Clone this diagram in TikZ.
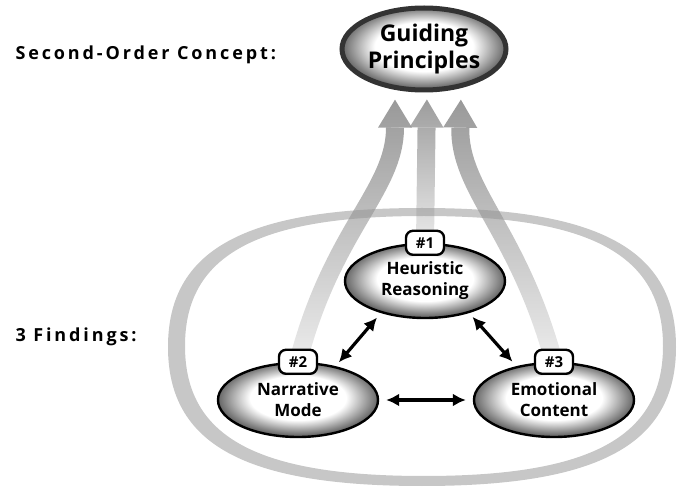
\documentclass[tikz,border=0pt]{standalone}
\usepackage{fontspec}
\setmainfont{Open Sans}
\newfontfamily\spacedsans[LetterSpace=16]{Open Sans}
\usetikzlibrary{shapes.geometric,arrows.meta,fadings,positioning}

\pgfdeclarelayer{back}
\pgfsetlayers{back,main}

\pgfdeclareradialshading{ovalglow}{\pgfpoint{0bp}{2bp}}{color(0bp)=(white); color(15bp)=(white); color(25bp)=(black!60); color(50bp)=(black!60)}
\tikzfading[name=risefade, top color=transparent!0, bottom color=transparent!85]

\begin{document}
\begin{tikzpicture}[x=1pt,y=-1pt,
  finding/.style={ellipse, draw=black, line width=2.4pt, shading=ovalglow,
    minimum width=160pt, minimum height=74pt, inner sep=0pt, align=center,
    font=\fontsize{17}{21}\selectfont\bfseries},
  concept/.style={finding, draw=black!80, line width=5pt,
    minimum width=164pt, minimum height=82pt,
    font=\fontsize{23}{27}\selectfont\bfseries},
  tag/.style={draw=black, line width=2.4pt, fill=white, rounded corners=7pt,
    minimum width=38pt, minimum height=24pt, inner sep=1pt,
    font=\fontsize{15}{16}\selectfont\bfseries},
  link/.style={{Latex[length=13pt,width=13pt]}-{Latex[length=13pt,width=13pt]},
    line width=3.2pt, black},
  rise/.style={line width=18pt, draw=black!42, path fading=risefade,
    -{Triangle[length=28pt,width=34pt,line width=0pt]}},
  caption/.style={anchor=west, font=\spacedsans\bfseries\fontsize{18}{20}\selectfont}]
  \useasboundingbox (0,0) rectangle (681,489);

  % nodes
  \node[concept] (guide) at (424,49) {Guiding\\Principles};
  \node[finding] (heur) at (425,281) {Heuristic\\Reasoning};
  \node[finding] (narr) at (298,400) {Narrative\\Mode};
  \node[finding] (emot) at (554,400) {Emotional\\Content};
  \node[tag] (tag1) at (heur.north) {\#1};
  \node[tag] (tag2) at (narr.north) {\#2};
  \node[tag] (tag3) at (emot.north) {\#3};

  \node[caption] (second) at (12,55) {Second-Order Concept:};
  \node[caption] (three) at (12,337) {3 Findings:};

  % links between the findings
  \draw[link, shorten <=5pt, shorten >=6pt] (narr.42) -- (heur.216);
  \draw[link, shorten <=5pt, shorten >=6pt] (heur.-36) -- (emot.138);
  \draw[link, shorten <=7pt, shorten >=7pt] (narr) -- (emot);

  \begin{pgfonlayer}{back}
    % loop round the findings
    \fill[black!22, even odd rule]
      (168,347) .. controls (168,250) and (244,208) .. (422,208)
      .. controls (600,208) and (676,250) .. (676,347)
      .. controls (676,444) and (600,486) .. (422,486)
      .. controls (244,486) and (168,444) .. (168,347) -- cycle
      (185,346) .. controls (185,255) and (257,216) .. (424,216)
      .. controls (591,216) and (663,255) .. (663,346)
      .. controls (663,437) and (591,476) .. (424,476)
      .. controls (257,476) and (185,437) .. (185,346) -- cycle;
    % arrows up to the concept
    \draw[rise, shorten >=7pt] (tag2.center) .. controls (332,230) and (395,190) .. ([xshift=-29pt]guide.south);
    \draw[rise, shorten >=7pt] (tag1.center) -- ([xshift=3pt]guide.south);
    \draw[rise, shorten >=7pt] (tag3.center) .. controls (518,230) and (459,190) .. ([xshift=37pt]guide.south);
  \end{pgfonlayer}
\end{tikzpicture}
\end{document}
